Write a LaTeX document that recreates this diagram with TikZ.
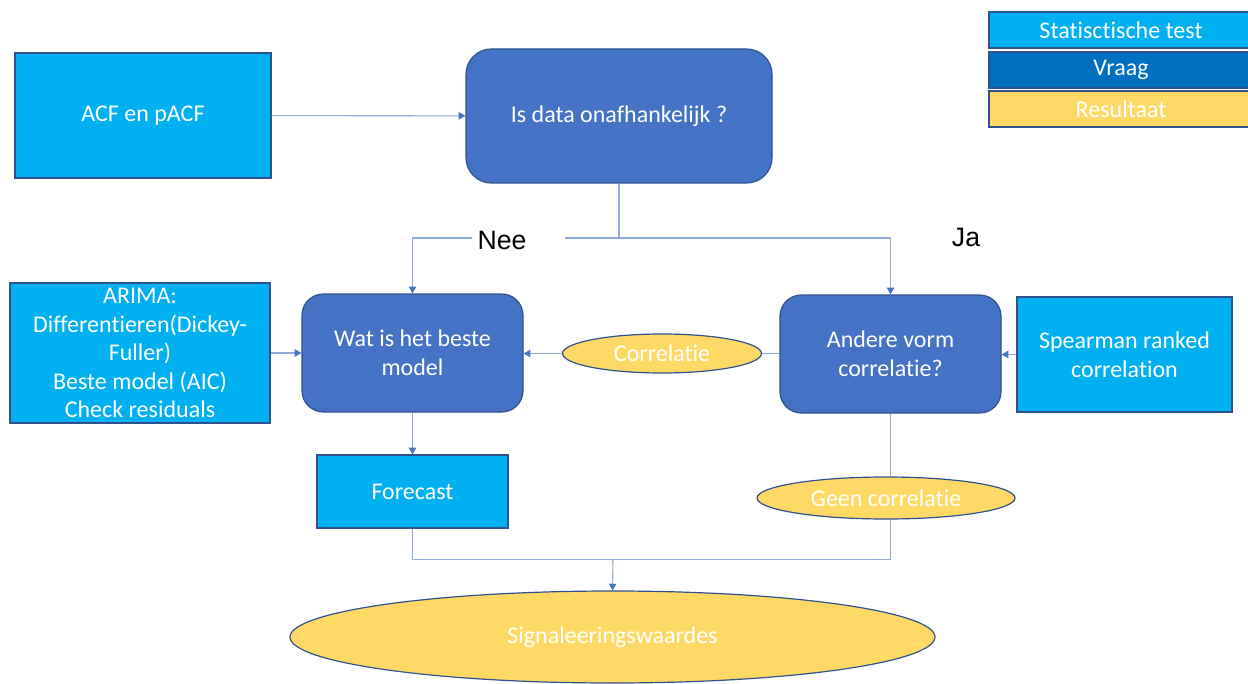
\documentclass[tikz,border=0pt]{standalone}
\usepackage{fontspec}
\setmainfont{Carlito}[Ligatures=NoCommon]
\newfontfamily\labelfont{Liberation Sans}
\usetikzlibrary{arrows.meta,shapes.geometric}
\definecolor{testblue}{HTML}{00B0F0}
\definecolor{askblue}{HTML}{4472C4}
\definecolor{legendask}{HTML}{0070C0}
\definecolor{resyellow}{HTML}{FFD966}
\definecolor{edgeblue}{HTML}{2F528F}
\definecolor{linkblue}{HTML}{8FAADC}
\begin{document}
\begin{tikzpicture}[x=0.75pt,y=-0.75pt,
  sz/.style 2 args={minimum width=#1*0.75pt, minimum height=#2*0.75pt},
  testbox/.style={draw=edgeblue, line width=0.9pt, fill=testblue, text=white,
    inner sep=0pt, align=center, font=\fontsize{18}{21.5}\selectfont},
  askbox/.style={draw=edgeblue, line width=0.9pt, fill=askblue, text=white,
    rounded corners=16pt, inner sep=0pt, align=center, font=\fontsize{18}{22}\selectfont},
  resbox/.style={draw=edgeblue, line width=0.9pt, fill=resyellow, text=white,
    ellipse, inner sep=0pt, align=center, font=\fontsize{18}{21}\selectfont},
  link/.style={draw=linkblue, line width=0.8pt},
  arr/.style={link, -{Triangle[length=5pt,width=5.5pt,color=askblue]}},
  yesno/.style={text=black, font=\labelfont\fontsize{20}{24}\selectfont, inner sep=0pt}]

\useasboundingbox (0,0) rectangle (1248,684);
\fill[white] (0,0) rectangle (1248,684);

% legend
\node[testbox, sz={264}{36}] (legtest) at (1121,30) {Statisctische test};
\node[testbox, fill=legendask, sz={264}{36}] (legask) at (1121,70) {Vraag};
\node[testbox, fill=resyellow, sz={264}{36}] (legres) at (1121,109) {Resultaat};

% main nodes
\node[testbox, sz={256}{125}] (acf) at (143,115.5) {ACF en pACF};
\node[askbox, sz={306}{134}, rounded corners=19pt] (isdata) at (619,116) {Is data onafhankelijk ?};
\node[testbox, sz={260}{140}, font=\fontsize{18}{21.4}\selectfont] (arima) at (140,353)
  {ARIMA:\\Differentieren(Dickey-\\Fuller)\\Beste model (AIC)\\Check residuals};
\node[askbox, sz={221}{118}] (wat) at (412.5,353) {Wat is het beste\\model};
\node[resbox, sz={199}{39}] (corr) at (662,353.5) {Correlatie};
\node[askbox, sz={221}{118}] (andere) at (890.5,354) {Andere vorm\\correlatie?};
\node[testbox, sz={215}{115}, font=\fontsize{18}{22}\selectfont] (spear) at (1124.5,354.5) {Spearman ranked\\correlation};
\node[testbox, sz={191}{73}] (forecast) at (412.5,491.5) {Forecast};
\node[resbox, sz={258}{42}] (geen) at (886,498) {Geen correlatie};
\node[resbox, sz={645}{92}] (sig) at (612.5,637) {Signaleeringswaardes};

% branch labels
\node[yesno] (nee) at (502,240) {Nee};
\node[yesno] (ja) at (966,237) {Ja};

% junction points
\coordinate (split) at (619,238);
\coordinate (neeL) at (472,238);
\coordinate (neeR) at (565,238);
\coordinate (merge) at (613,559.5);

% connectors
\draw[arr] (acf) -- (isdata);
\draw[link] (isdata.south) -- (split) -- (neeR);
\draw[arr] (split) -| (andere.north);
\draw[arr] (neeL) -| (wat.north);
\draw[arr] (arima.east) -- (arima.east -| wat.west);
\draw[link] (andere.west |- corr.east) -- (corr.east);
\draw[arr] (corr.west) -- (corr.west -| wat.east);
\draw[arr] (spear.west) -- (spear.west -| andere.east);
\draw[arr] (wat.south) -- (forecast.north);
\draw[link] (andere.south) -- (andere.south |- geen.north);
\draw[link] (geen.south -| andere.south) |- (merge);
\draw[link] (forecast.south) |- (merge);
\draw[arr] (merge) -- (sig.north);
\end{tikzpicture}
\end{document}
